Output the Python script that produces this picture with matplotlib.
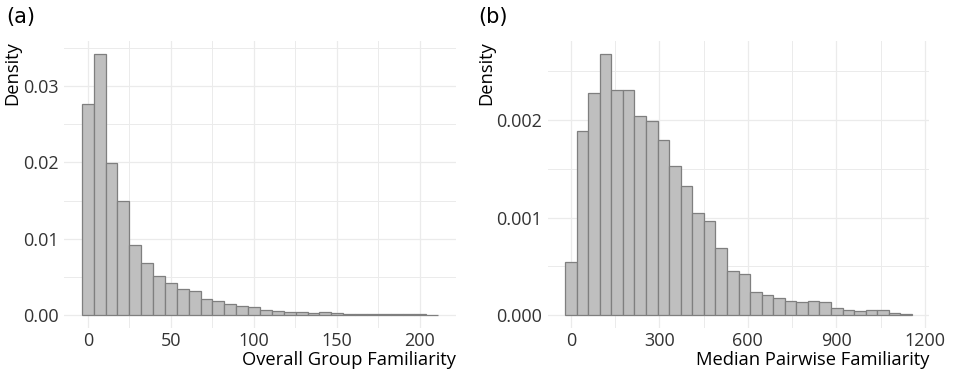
import numpy as np
import matplotlib
matplotlib.use("Agg")
import matplotlib.pyplot as plt
from matplotlib.ticker import MultipleLocator

# ---- data ----
a_binwidth = 7.16
a_density = [0.0277, 0.0342, 0.0199, 0.0149, 0.0092, 0.0068, 0.0051, 0.0042, 0.0034, 0.0032,
             0.00215, 0.00185, 0.0015, 0.0012, 0.00104, 0.00065, 0.00056, 0.00043, 0.00037, 0.0003,
             0.00034, 0.00021, 0.00017, 0.00017, 0.00013, 0.00013, 0.0001, 0.0001, 0.00006, 0.00005]
a_xticks = [0, 50, 100, 150, 200]
a_yticks = [0.00, 0.01, 0.02, 0.03]
a_ytick_labels = ["0.00", "0.01", "0.02", "0.03"]
a_xlabel = "Overall Group Familiarity"

b_binwidth = 39.2
b_density = [0.000539, 0.001885, 0.002278, 0.002678, 0.002312, 0.002312, 0.002044, 0.001986, 0.0018, 0.001532,
             0.001325, 0.001044, 0.000966, 0.000685, 0.000451, 0.000424, 0.000234, 0.000203, 0.00017, 0.000142,
             0.000132, 0.000139, 0.000129, 0.000068, 0.000047, 0.000044, 0.000054, 0.000054, 0.00002, 0.000007]
b_xticks = [0, 300, 600, 900, 1200]
b_yticks = [0.000, 0.001, 0.002]
b_ytick_labels = ["0.000", "0.001", "0.002"]
b_xlabel = "Median Pairwise Familiarity"

ylabel = "Density"
tags = ["(a)", "(b)"]

FILL = "#BFBFBF"
EDGE = "#7F7F7F"
GRID = "#EBEBEB"
TICKC = "#333333"

plt.rcParams['font.family'] = ['Open Sans', 'DejaVu Sans']

fig = plt.figure(figsize=(9.54, 3.74), dpi=100)
W, H = 954, 374


def panel(rect_px, density, bw, xticks, xminor, yticks, ylabels, yminor, xlabel):
    l, t, r, b = rect_px
    ax = fig.add_axes([l / W, 1 - b / H, (r - l) / W, (b - t) / H])
    n = len(density)
    centers = np.arange(n) * bw
    ax.bar(centers, density, width=bw, color=FILL, edgecolor=EDGE, linewidth=0.9, zorder=3)
    lo, hi = centers[0] - bw / 2, centers[-1] + bw / 2
    ex = (hi - lo) * 0.05
    ax.set_xlim(lo - ex, hi + ex)
    top = max(density)
    ax.set_ylim(-top * 0.05, top * 1.05)
    ax.set_xticks(xticks)
    ax.set_xticklabels([str(v) for v in xticks])
    ax.set_yticks(yticks)
    ax.set_yticklabels(ylabels)
    ax.xaxis.set_minor_locator(MultipleLocator(xminor))
    ax.yaxis.set_minor_locator(MultipleLocator(yminor))
    ax.grid(True, which='major', color=GRID, linewidth=0.9, zorder=0)
    ax.grid(True, which='minor', color=GRID, linewidth=0.7, zorder=0)
    for s in ax.spines.values():
        s.set_visible(False)
    ax.tick_params(which='both', length=0, labelsize=13, labelcolor=TICKC)
    ax.tick_params(axis='y', pad=4)
    ax.tick_params(axis='x', pad=3)
    ax.set_xlabel(xlabel, loc='right', fontsize=13.2, labelpad=0.5, color='black')
    ax.set_ylabel(ylabel, loc='top', fontsize=13.2, labelpad=1, color='black')
    ax.set_axisbelow(True)
    return ax


ax1 = panel((64, 41, 456, 328), a_density, a_binwidth, a_xticks, 25, a_yticks, a_ytick_labels, 0.005, a_xlabel)
ax2 = panel((547.7, 41, 929.3, 328), b_density, b_binwidth, b_xticks, 150, b_yticks, b_ytick_labels, 0.0005, b_xlabel)

fig.text(6 / W, 1 - 7 / H, tags[0], fontsize=15, family=['DejaVu Sans'], va='top', ha='left')
fig.text(478 / W, 1 - 7 / H, tags[1], fontsize=15, family=['DejaVu Sans'], va='top', ha='left')

fig.savefig("out.png", dpi=100, facecolor='white')
